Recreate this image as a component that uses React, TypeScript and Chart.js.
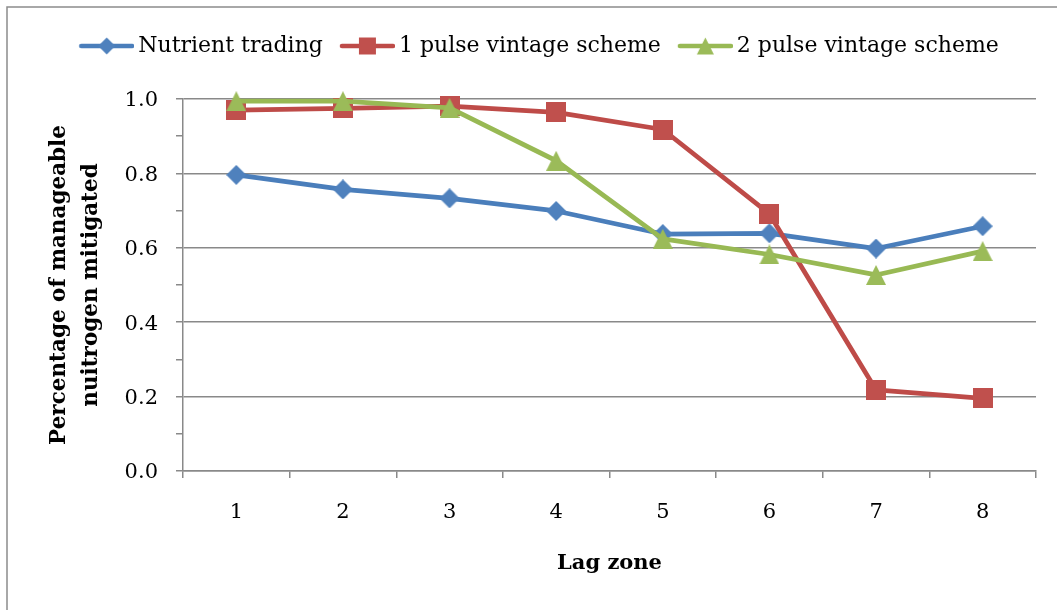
import React, { useEffect, useRef } from "react";
import { Chart, registerables } from "chart.js";

Chart.register(...registerables);

// ---- data ----
const categories = ["1", "2", "3", "4", "5", "6", "7", "8"];
const nutrientTrading = [0.796, 0.757, 0.733, 0.699, 0.637, 0.639, 0.598, 0.658];
const onePulseVintage = [0.970, 0.975, 0.981, 0.964, 0.918, 0.691, 0.218, 0.195];
const twoPulseVintage = [0.994, 0.994, 0.976, 0.834, 0.624, 0.582, 0.527, 0.591];
const seriesNames = ["Nutrient trading", "1 pulse vintage scheme", "2 pulse vintage scheme"];
const xTitle = "Lag zone";
const yTitle = ["Percentage of manageable", "nuitrogen mitigated"];

// ---- styles ----
const lineColors = ["#4A7EBB", "#BE4B48", "#98B954"];
const markerColors = ["#4F81BD", "#C0504D", "#9BBB59"];
const markerShapes = ["diamond", "square", "triangle"];
const GRID = "#898989";
const W = 1057;
const H = 610;

function drawMarker(ctx: CanvasRenderingContext2D, shape: string, cx: number, cy: number, s: number, color: string) {
  const h = s / 2;
  ctx.fillStyle = color;
  ctx.beginPath();
  if (shape === "diamond") {
    ctx.moveTo(cx, cy - h);
    ctx.lineTo(cx + h, cy);
    ctx.lineTo(cx, cy + h);
    ctx.lineTo(cx - h, cy);
  } else if (shape === "square") {
    ctx.rect(cx - h, cy - h, s, s);
  } else {
    ctx.moveTo(cx, cy - h);
    ctx.lineTo(cx + h, cy + h);
    ctx.lineTo(cx - h, cy + h);
  }
  ctx.closePath();
  ctx.fill();
}

function makeMarker(shape: string, color: string, size: number) {
  const c = document.createElement("canvas");
  c.width = size;
  c.height = size;
  const ctx = c.getContext("2d")!;
  drawMarker(ctx, shape, size / 2, size / 2, size, color);
  return c;
}

function makeLegendIcon(shape: string, lineColor: string, markerColor: string) {
  const c = document.createElement("canvas");
  c.width = 62;
  c.height = 22;
  const ctx = c.getContext("2d")!;
  ctx.strokeStyle = lineColor;
  ctx.lineWidth = 4.5;
  ctx.lineCap = "round";
  ctx.beginPath();
  ctx.moveTo(9, 11);
  ctx.lineTo(60, 11);
  ctx.stroke();
  drawMarker(ctx, shape, 34.5, 11, 17, markerColor);
  return c;
}

const frameBorder = {
  id: "frameBorder",
  beforeDraw(chart: any) {
    const ctx = chart.ctx;
    ctx.save();
    ctx.fillStyle = "#ffffff";
    ctx.fillRect(0, 0, chart.width, chart.height);
    ctx.strokeStyle = "#8c8c8c";
    ctx.lineWidth = 1.5;
    ctx.strokeRect(7, 7, 1200, 1000);
    ctx.restore();
  },
};

const LEGEND_BOX_HEIGHT = 81;
const legendHeight = {
  id: "legendHeight",
  beforeLayout(chart: any) {
    const lg = chart.legend;
    if (lg && !lg._fixedFit) {
      const orig = lg.fit.bind(lg);
      lg.fit = function () {
        orig();
        this.height = LEGEND_BOX_HEIGHT;
      };
      lg._fixedFit = true;
    }
  },
};

export default function App() {
  const ref = useRef<HTMLCanvasElement | null>(null);

  useEffect(() => {
    if (!ref.current) return;
    const values = [nutrientTrading, onePulseVintage, twoPulseVintage];
    const markers = markerShapes.map((s, i) => makeMarker(s, markerColors[i], 20));
    const icons = markerShapes.map((s, i) => makeLegendIcon(s, lineColors[i], markerColors[i]));
    const drawOrder = [2, 1, 0];

    const chart = new Chart(ref.current, {
      type: "line",
      data: {
        labels: categories,
        datasets: values.map((v, i) => ({
          label: seriesNames[i],
          data: v,
          borderColor: lineColors[i],
          backgroundColor: markerColors[i],
          borderWidth: 4.75,
          borderJoinStyle: "round" as const,
          borderCapStyle: "round" as const,
          tension: 0,
          pointStyle: markers[i] as any,
          pointRadius: 10,
          pointHoverRadius: 10,
          clip: false as any,
          order: drawOrder[i],
        })),
      },
      options: {
        responsive: false,
        animation: false,
        layout: { padding: { top: 18, left: 42, right: 21, bottom: 0 } },
        plugins: {
          tooltip: { enabled: false },
          legend: {
            position: "top",
            align: "center",
            labels: {
              usePointStyle: true,
              pointStyleWidth: 48,
              padding: 17,
              color: "#000",
              font: { family: "DejaVu Serif", size: 22 },
              generateLabels: () =>
                seriesNames.map((t, i) => ({
                  text: t,
                  pointStyle: icons[i] as any,
                  fillStyle: markerColors[i],
                  strokeStyle: lineColors[i],
                  lineWidth: 0,
                  hidden: false,
                  datasetIndex: i,
                  fontColor: "#000",
                })),
            },
          },
        },
        scales: {
          x: {
            type: "category",
            offset: true,
            grid: {
              offset: true,
              drawOnChartArea: false,
              drawTicks: true,
              tickLength: 7,
              color: GRID,
              lineWidth: 1.5,
            },
            border: { color: GRID, width: 1.5 },
            ticks: {
              color: "#000",
              font: { family: "DejaVu Serif", size: 21 },
              padding: 22,
              autoSkip: false,
              maxRotation: 0,
            },
            title: {
              display: true,
              text: xTitle,
              color: "#000",
              font: { family: "DejaVu Serif", size: 21, weight: "bold" },
              padding: { top: 0, bottom: 34 },
            },
            afterFit: (s: any) => {
              s.height = 139;
            },
          },
          y: {
            min: 0,
            max: 1,
            grid: {
              color: (c: any) => (Math.round(c.tick.value * 10) % 2 === 0 ? GRID : "rgba(0,0,0,0)"),
              tickColor: GRID,
              lineWidth: 1.5,
              tickLength: 7,
            },
            border: { color: GRID, width: 1.5 },
            ticks: {
              stepSize: 0.1,
              color: "#000",
              font: { family: "DejaVu Serif", size: 21 },
              padding: 18,
              labelOffset: 2,
              autoSkip: false,
              callback: (v: any) => (Math.round(Number(v) * 10) % 2 === 0 ? Number(v).toFixed(1) : ""),
            },
            title: {
              display: true,
              text: yTitle,
              color: "#000",
              font: { family: "DejaVu Serif", size: 21.5, weight: "bold", lineHeight: "32px" },
              padding: { top: 1, bottom: 0 },
            },
            afterFit: (s: any) => {
              s.width = 141;
            },
          },
        },
      },
      plugins: [frameBorder, legendHeight],
    });

    return () => chart.destroy();
  }, []);

  return (
    <div style={{ position: "fixed", left: 0, top: 0, width: W, height: H, background: "#fff" }}>
      <canvas ref={ref} width={W} height={H} style={{ display: "block" }} />
    </div>
  );
}
